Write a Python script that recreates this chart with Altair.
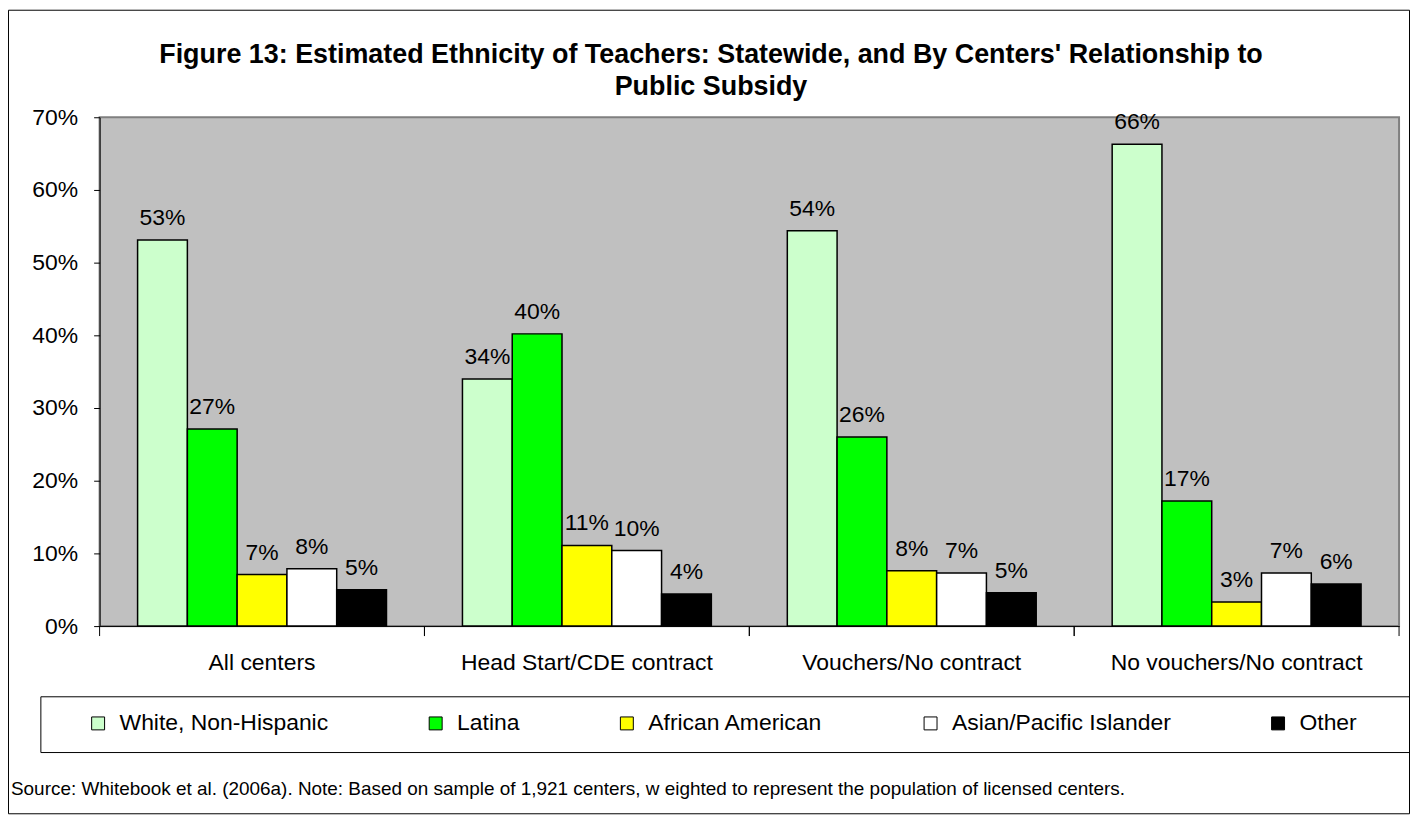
import altair as alt
import pandas as pd

groups = ["All centers", "Head Start/CDE contract", "Vouchers/No contract", "No vouchers/No contract"]
ethnicities = ["White, Non-Hispanic", "Latina", "African American", "Asian/Pacific Islander", "Other"]
white = [0.531, 0.340, 0.544, 0.663]
latina = [0.271, 0.402, 0.260, 0.172]
african = [0.071, 0.111, 0.076, 0.033]
asian = [0.079, 0.104, 0.073, 0.073]
other = [0.050, 0.044, 0.046, 0.058]
colors = ["#CCFFCC", "#00FF00", "#FFFF00", "#FFFFFF", "#000000"]
y_ticks = [0, 0.1, 0.2, 0.3, 0.4, 0.5, 0.6, 0.7]
title_lines = ["Figure 13: Estimated Ethnicity of Teachers: Statewide, and By Centers' Relationship to",
               "Public Subsidy"]
source_note = ("Source: Whitebook et al. (2006a). Note: Based on sample of 1,921 centers, "
               "w eighted to represent the population of licensed centers.")

series = [white, latina, african, asian, other]
rows = []
for i, g in enumerate(groups):
    for e, vals in zip(ethnicities, series):
        rows.append({"group": g, "ethnicity": e, "value": vals[i]})
df = pd.DataFrame(rows)
gdf = pd.DataFrame({"group": groups})
one = pd.DataFrame({"k": [0]})

W, H = 1305, 511
FONT = "Liberation Sans"
FS = 23

x_scale = alt.Scale(paddingInner=0, paddingOuter=0)
x_axis = alt.Axis(title=None, labelAngle=0, ticks=False, domainColor="black", domainWidth=1,
                  labelFontSize=FS, labelFont=FONT, labelColor="black", labelPadding=26, labelLimit=0)
x_enc = alt.X("group:N", sort=groups, scale=x_scale, axis=x_axis)
xoff = alt.XOffset("ethnicity:N", sort=ethnicities, scale=alt.Scale(paddingInner=0, paddingOuter=0.763))
y_enc = alt.Y("value:Q", scale=alt.Scale(domain=[0, 0.7], nice=False),
              axis=alt.Axis(title=None, format=".0%", values=y_ticks, grid=False,
                            domainColor="black", tickColor="black", tickSize=6,
                            labelFontSize=FS, labelFont=FONT, labelColor="black", labelPadding=16))

bars = alt.Chart(df).mark_bar(stroke="black", strokeWidth=1.5, opacity=1).encode(
    x=x_enc, xOffset=xoff, y=y_enc,
    color=alt.Color("ethnicity:N", sort=ethnicities,
                    scale=alt.Scale(domain=ethnicities, range=colors),
                    legend=alt.Legend(title=None, orient="none", direction="horizontal",
                                      legendX=-13, legendY=597, columnPadding=96,
                                      symbolType="square", symbolSize=169,
                                      symbolStrokeColor="black", symbolStrokeWidth=1,
                                      labelFontSize=FS, labelFont=FONT, labelColor="black",
                                      labelOffset=10, labelLimit=0, padding=0))
)

labels = alt.Chart(df).mark_text(baseline="bottom", dy=-10, fontSize=FS, font=FONT, color="black").encode(
    x=x_enc, xOffset=xoff, y=y_enc, text=alt.Text("value:Q", format=".0%")
)

sep_right = alt.Chart(gdf).mark_rule(color="black", strokeWidth=1).encode(
    x=alt.X("group:N", sort=groups, scale=x_scale, axis=x_axis, bandPosition=1),
    y=alt.value(H), y2=alt.value(H + 10)
)
sep_left = alt.Chart(gdf).mark_rule(color="black", strokeWidth=1).encode(
    x=alt.X("group:N", sort=groups, scale=x_scale, axis=x_axis, bandPosition=0),
    y=alt.value(H), y2=alt.value(H + 10)
)

outer = alt.Chart(one).mark_rect(fill="transparent", stroke="black", strokeWidth=1).encode(
    x=alt.value(-91.5), x2=alt.value(1315.5), y=alt.value(-107.5), y2=alt.value(699.5)
)
legend_box = alt.Chart(one).mark_rect(fill="transparent", stroke="black", strokeWidth=1).encode(
    x=alt.value(-59), x2=alt.value(1315.5), y=alt.value(582), y2=alt.value(638)
)
title = alt.Chart(one).mark_text(fontSize=27, font=FONT, fontWeight="bold", align="center",
                                 baseline="alphabetic", lineHeight=32, color="black").encode(
    x=alt.value(614), y=alt.value(-54.5), text=alt.value(title_lines)
)
source = alt.Chart(one).mark_text(fontSize=19, font=FONT, align="left", baseline="middle",
                                  color="black").encode(
    x=alt.value(-89), y=alt.value(675), text=alt.value(source_note)
)

chart = alt.layer(outer, legend_box, bars, labels, sep_left, sep_right, title, source).properties(
    width=W, height=H,
    autosize=alt.AutoSizeParams(type="none"),
    padding={"left": 92, "top": 108, "right": 11, "bottom": 189},
    background="white",
).configure_view(fill="#C0C0C0", stroke="#808080", strokeWidth=2)

chart.save("out.html", embed_options={"renderer": "svg", "actions": False})
